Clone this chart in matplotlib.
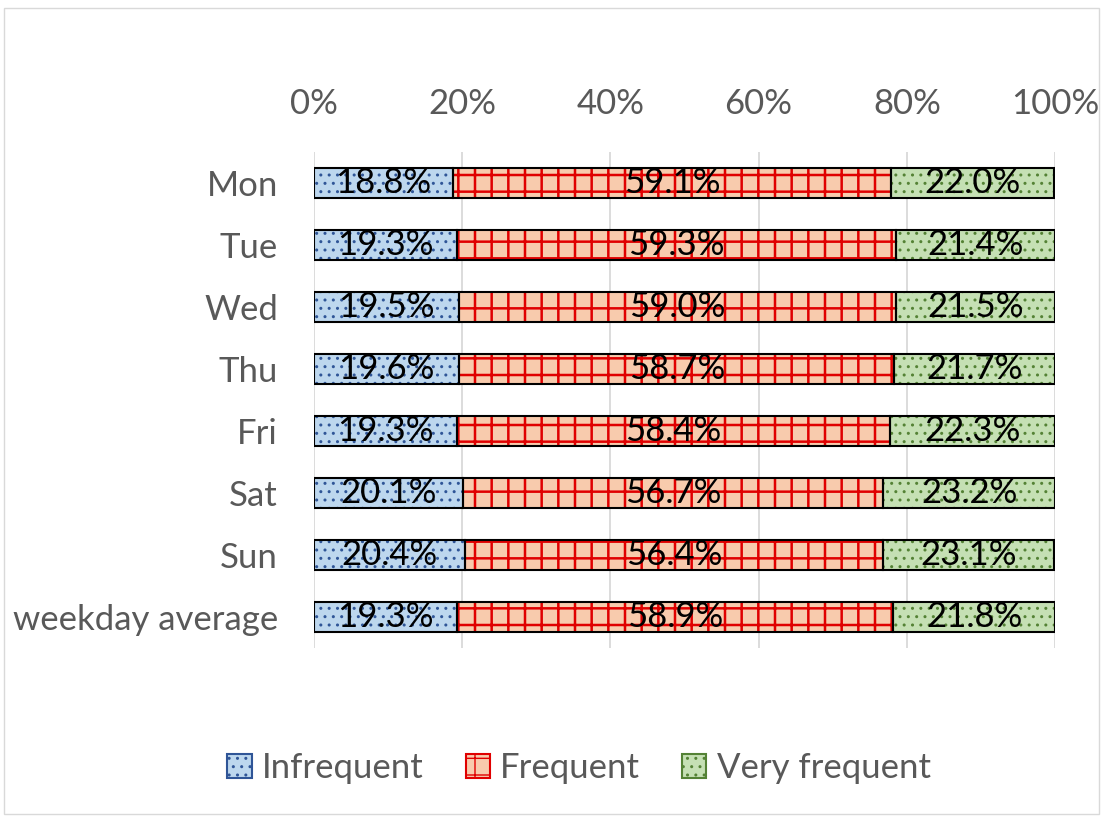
import matplotlib
matplotlib.use('Agg')
import matplotlib.pyplot as plt
import numpy as np

plt.rcParams['font.family'] = ['Lato', 'DejaVu Sans']

days = ['Mon', 'Tue', 'Wed', 'Thu', 'Fri', 'Sat', 'Sun', 'weekday average']
infrequent = [18.8, 19.3, 19.5, 19.6, 19.3, 20.1, 20.4, 19.3]
frequent = [59.1, 59.3, 59.0, 58.7, 58.4, 56.7, 56.4, 58.9]
very_frequent = [22.0, 21.4, 21.5, 21.7, 22.3, 23.2, 23.1, 21.8]

series = [
    ('Infrequent', infrequent, '#bdd7ee', '#2f5597', '..'),
    ('Frequent', frequent, '#f8cbad', '#e00000', '+'),
    ('Very frequent', very_frequent, '#c5e0b4', '#548235', '..'),
]

GRAY = '#595959'
FS = 25

fig = plt.figure(figsize=(11.03, 8.17), dpi=100)
fig.patch.set_facecolor('white')
ax = fig.add_axes([0.2847, 0.207, 0.6718, 0.607])

y = np.arange(len(days))
left = np.zeros(len(days))
handles = []
for name, vals, fill, hcol, hatch in series:
    vals = np.array(vals)
    plt.rcParams['hatch.linewidth'] = 1.8 if hatch == '+' else 1.0
    b = ax.barh(y, vals, left=left, height=0.49, color=fill,
                edgecolor=hcol, hatch=hatch, linewidth=0, zorder=2)
    ax.barh(y, vals, left=left, height=0.49, fill=False,
            edgecolor='black', linewidth=1.5, zorder=3)
    for yi, l, v in zip(y, left, vals):
        ax.text(l + v / 2, yi, f'{v:.1f}%', ha='center', va='center',
                fontsize=FS, color='black', zorder=4)
    handles.append(b)
    left = left + vals

ax.set_xlim(0, 100)
ax.set_ylim(len(days) - 0.5, -0.5)
ax.set_yticks(y)
ax.set_yticklabels(days, fontsize=FS, color=GRAY)
ax.set_xticks(np.arange(0, 101, 20))
ax.set_xticklabels([f'{t}%' for t in range(0, 101, 20)], fontsize=FS, color=GRAY)
ax.xaxis.tick_top()
ax.tick_params(axis='both', length=0)
ax.tick_params(axis='y', pad=26)
ax.tick_params(axis='x', pad=23)
ax.grid(axis='x', color='#d9d9d9', linewidth=1.3, zorder=0)
ax.set_axisbelow(True)
for s in ax.spines.values():
    s.set_visible(False)

leg = fig.legend(handles, [s[0] for s in series], loc='center',
                 bbox_to_anchor=(0.525, 0.06), ncol=3, frameon=False,
                 fontsize=FS, handlelength=0.7, handleheight=0.7,
                 handletextpad=0.3, columnspacing=1.2)
for t in leg.get_texts():
    t.set_color(GRAY)
for h in leg.legend_handles:
    h.set_linewidth(1.5)

# thin frame around the chart area
fig.add_artist(plt.Rectangle((0.004, 0.004), 0.992, 0.986, transform=fig.transFigure,
                             fill=False, edgecolor='#d9d9d9', linewidth=1))

fig.savefig('out.png', dpi=100, facecolor='white')
